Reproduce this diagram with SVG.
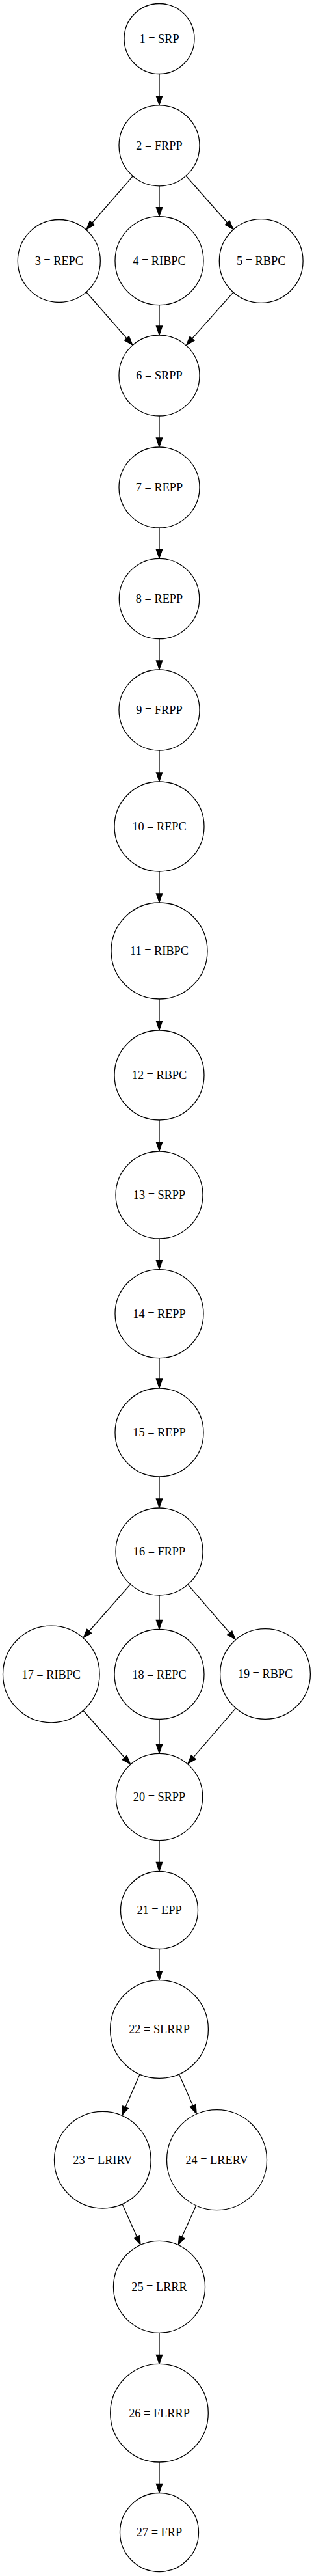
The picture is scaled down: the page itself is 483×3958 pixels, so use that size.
<svg xmlns="http://www.w3.org/2000/svg" width="483" height="3958" viewBox="0 0 483 3958">
<style>
.n ellipse{fill:#fff;stroke:#000;stroke-width:1.3}
.n text{font-family:"Liberation Serif","Times New Roman",serif;font-size:18.3px;text-anchor:middle;fill:#000}
#edges line{stroke:#000;stroke-width:1.3;fill:none;marker-end:url(#arr)}
</style>
<defs>
<marker id="arr" markerUnits="userSpaceOnUse" viewBox="0 -6 16 12" markerWidth="16" markerHeight="12" refX="0" refY="0" orient="auto" overflow="visible">
<path d="M0,-4.6 L13.4,0 L0,4.6 z" fill="#000" stroke="#000" stroke-width="1.3" stroke-linejoin="miter"/>
</marker>
</defs>
<rect width="483" height="3958" fill="#fff"/>
<g id="edges">
<line x1="245" y1="113.5" x2="245" y2="147.8"/>
<line x1="204.3" y1="270.57" x2="141.68" y2="342.54"/>
<line x1="245" y1="285.8" x2="245" y2="318.7"/>
<line x1="286.07" y1="270.24" x2="349.77" y2="342.27"/>
<line x1="132.65" y1="448.76" x2="194.91" y2="519.84"/>
<line x1="245" y1="468.7" x2="245" y2="501"/>
<line x1="358.87" y1="449.1" x2="295.54" y2="520.23"/>
<line x1="245" y1="639" x2="245" y2="673"/>
<line x1="245" y1="811" x2="245" y2="844.3"/>
<line x1="245" y1="981.7" x2="245" y2="1015"/>
<line x1="245" y1="1153" x2="245" y2="1187"/>
<line x1="245" y1="1339" x2="245" y2="1373"/>
<line x1="245" y1="1535" x2="245" y2="1569"/>
<line x1="245" y1="1721" x2="245" y2="1755"/>
<line x1="245" y1="1903" x2="245" y2="1936.6"/>
<line x1="245" y1="2086.6" x2="245" y2="2119"/>
<line x1="245" y1="2269" x2="245" y2="2303"/>
<line x1="200.69" y1="2434.26" x2="137.2" y2="2506.27"/>
<line x1="245" y1="2451" x2="245" y2="2489.5"/>
<line x1="288.89" y1="2434.63" x2="353.37" y2="2508.98"/>
<line x1="127.94" y1="2628.23" x2="191.62" y2="2700.47"/>
<line x1="245" y1="2641.5" x2="245" y2="2680.3"/>
<line x1="362.67" y1="2624.55" x2="297.7" y2="2699.89"/>
<line x1="245" y1="2827.7" x2="245" y2="2861.5"/>
<line x1="245" y1="2994.5" x2="245" y2="3028.6"/>
<line x1="214.95" y1="3187.16" x2="192.99" y2="3237.71"/>
<line x1="275.42" y1="3186.99" x2="296.78" y2="3235.44"/>
<line x1="188.11" y1="3386.54" x2="210.53" y2="3436.65"/>
<line x1="301.69" y1="3388.82" x2="279.9" y2="3436.85"/>
<line x1="245" y1="3584.3" x2="245" y2="3618.4"/>
<line x1="245" y1="3783" x2="245" y2="3816.5"/>
</g>
<g id="node1" class="n"><ellipse cx="245" cy="59.5" rx="54" ry="54"/><text x="245" y="65.5">1 = SRP</text></g>
<g id="node2" class="n"><ellipse cx="245" cy="223.8" rx="62" ry="62"/><text x="245" y="229.8">2 = FRPP</text></g>
<g id="node3" class="n"><ellipse cx="90.8" cy="401" rx="63.5" ry="63.5"/><text x="90.8" y="407">3 = REPC</text></g>
<g id="node4" class="n"><ellipse cx="245" cy="400.7" rx="68" ry="68"/><text x="245" y="406.7">4 = RIBPC</text></g>
<g id="node5" class="n"><ellipse cx="401.7" cy="401" rx="64.4" ry="64.4"/><text x="401.7" y="407">5 = RBPC</text></g>
<g id="node6" class="n"><ellipse cx="245" cy="577" rx="62" ry="62"/><text x="245" y="583">6 = SRPP</text></g>
<g id="node7" class="n"><ellipse cx="245" cy="749" rx="62" ry="62"/><text x="245" y="755">7 = REPP</text></g>
<g id="node8" class="n"><ellipse cx="245" cy="920" rx="61.7" ry="61.7"/><text x="245" y="926">8 = REPP</text></g>
<g id="node9" class="n"><ellipse cx="245" cy="1091" rx="62" ry="62"/><text x="245" y="1097">9 = FRPP</text></g>
<g id="node10" class="n"><ellipse cx="245" cy="1270" rx="69" ry="69"/><text x="245" y="1276">10 = REPC</text></g>
<g id="node11" class="n"><ellipse cx="245" cy="1461" rx="74" ry="74"/><text x="245" y="1467">11 = RIBPC</text></g>
<g id="node12" class="n"><ellipse cx="245" cy="1652" rx="69" ry="69"/><text x="245" y="1658">12 = RBPC</text></g>
<g id="node13" class="n"><ellipse cx="245" cy="1836" rx="67" ry="67"/><text x="245" y="1842">13 = SRPP</text></g>
<g id="node14" class="n"><ellipse cx="245" cy="2018.6" rx="68" ry="68"/><text x="245" y="2024.6">14 = REPP</text></g>
<g id="node15" class="n"><ellipse cx="245" cy="2201" rx="68" ry="68"/><text x="245" y="2207">15 = REPP</text></g>
<g id="node16" class="n"><ellipse cx="245" cy="2384" rx="67" ry="67"/><text x="245" y="2390">16 = FRPP</text></g>
<g id="node17" class="n"><ellipse cx="78.8" cy="2572.5" rx="74.3" ry="74.3"/><text x="78.8" y="2578.5">17 = RIBPC</text></g>
<g id="node18" class="n"><ellipse cx="245" cy="2572.5" rx="69" ry="69"/><text x="245" y="2578.5">18 = REPC</text></g>
<g id="node19" class="n"><ellipse cx="408" cy="2572" rx="69.4" ry="69.4"/><text x="408" y="2578">19 = RBPC</text></g>
<g id="node20" class="n"><ellipse cx="245" cy="2761" rx="66.7" ry="66.7"/><text x="245" y="2767">20 = SRPP</text></g>
<g id="node21" class="n"><ellipse cx="245" cy="2935" rx="59.5" ry="59.5"/><text x="245" y="2941">21 = EPP</text></g>
<g id="node22" class="n"><ellipse cx="245" cy="3118" rx="75.4" ry="75.4"/><text x="245" y="3124">22 = SLRRP</text></g>
<g id="node23" class="n"><ellipse cx="157.8" cy="3318.7" rx="74.3" ry="74.3"/><text x="157.8" y="3324.7">23 = LRIRV</text></g>
<g id="node24" class="n"><ellipse cx="333.5" cy="3318.7" rx="77" ry="77"/><text x="333.5" y="3324.7">24 = LRERV</text></g>
<g id="node25" class="n"><ellipse cx="245" cy="3513.8" rx="70.5" ry="70.5"/><text x="245" y="3519.8">25 = LRRR</text></g>
<g id="node26" class="n"><ellipse cx="245" cy="3707.7" rx="75.3" ry="75.3"/><text x="245" y="3713.7">26 = FLRRP</text></g>
<g id="node27" class="n"><ellipse cx="245" cy="3891" rx="60.5" ry="60.5"/><text x="245" y="3897">27 = FRP</text></g>
</svg>
